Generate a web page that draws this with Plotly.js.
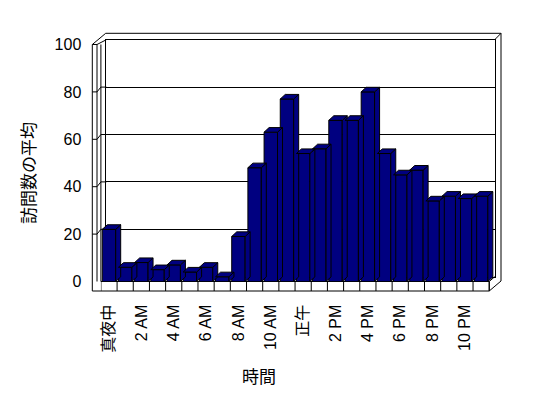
<!DOCTYPE html>
<html>
<head>
<meta charset="utf-8">
<script src="https://cdn.plot.ly/plotly-3.0.1.min.js"></script>
<style>html,body{margin:0;padding:0;background:#fff;}#chart{width:548px;height:398px;}</style>
</head>
<body>
<div id="chart"></div>
<script>
// ---- data ----
const hourLabels = ['真夜中','1 AM','2 AM','3 AM','4 AM','5 AM','6 AM','7 AM','8 AM','9 AM','10 AM','11 AM',
                    '正午','1 PM','2 PM','3 PM','4 PM','5 PM','6 PM','7 PM','8 PM','9 PM','10 PM','11 PM'];
const avgVisits = [22, 6, 8, 5, 7, 4, 6, 2, 19, 48, 63, 77, 54, 56, 68, 68, 80, 54, 45, 47, 34, 36, 35, 36];
const yTickVals = [0, 20, 40, 60, 80, 100];
const xTitle = '時間';
const yTitle = '訪問数の平均';

// ---- geometry (pixels) ----
const W = 548, H = 398;
const px = x => x / W, py = y => 1 - y / H;
const FX0 = 100.9, UX = 16.18;          // front plane left, px per category
const FY0 = 281.5, FY100 = 44.5;        // front plane y for 0 and 100
const BDX = 5.5, BDY = -4.8;            // back wall offset
const BAR_W = 0.83, DEPTH_X = 5, DEPTH_Y = 4.6;
const XMAX = 24;                        // axis range end (room for depth)
const UY = (FY0 - FY100) / 100;
const ddx = DEPTH_X / UX, ddy = DEPTH_Y / UY;
const idx = avgVisits.map((_, i) => i);
const FX1 = FX0 + 24 * UX;

const fyPix = v => FY0 - v * UY;
const byPix = v => fyPix(v) + BDY;

// side & top faces
const sx = [], sy = [], tx = [], ty = [];
idx.forEach(i => {
  const v = avgVisits[i], l = i - BAR_W / 2, r = i + BAR_W / 2;
  sx.push(r, r, r + ddx, r + ddx, r, null);
  sy.push(0, v, v + ddy, ddy, 0, null);
  tx.push(l, r, r + ddx, l + ddx, l, null);
  ty.push(v, v, v + ddy, v + ddy, v, null);
});

const navy = '#000080';
const traces = [
  {type: 'scatter', x: [0], y: [0], xaxis: 'x', yaxis: 'y', mode: 'markers', marker: {opacity: 0},
   hoverinfo: 'skip', showlegend: false},
  {type: 'scatter', x: sx, y: sy, xaxis: 'x2', yaxis: 'y2', mode: 'lines', fill: 'toself',
   fillcolor: navy, line: {color: '#000', width: 1}, hoverinfo: 'skip', showlegend: false},
  {type: 'scatter', x: tx, y: ty, xaxis: 'x2', yaxis: 'y2', mode: 'lines', fill: 'toself',
   fillcolor: navy, line: {color: '#000', width: 1}, hoverinfo: 'skip', showlegend: false},
  {type: 'bar', x: idx, y: avgVisits, xaxis: 'x2', yaxis: 'y2', width: BAR_W,
   marker: {color: navy, line: {color: '#000', width: 1}}, showlegend: false}
];

// frame lines
const L = (x0, y0, x1, y1) => ({type: 'line', xref: 'paper', yref: 'paper', layer: 'below',
  x0: px(x0), y0: py(y0), x1: px(x1), y1: py(y1), line: {color: '#000', width: 1}});
const shapes = [
  L(92.3, 44.5, 92.3, 291),
  L(97, 44.5, 97, 281.5),
  L(FX0, 44.5, FX0, 281.5),
  L(92.3, 44.5, 97, 44.5),
  L(97, 44.5, FX0 + BDX, 44.5 + BDY),
  L(92.3, 44.5, 105.7, 33.3),
  L(105.7, 33.3, 501, 33.3),
  L(501, 33.3, FX1 + BDX, FY100 + BDY),
  L(501, 33.3, 501, 281),
  L(92.3, 291, FX1, 291),
  L(FX0, FY0, FX1, FY0),
  L(FX1, FY0, FX1, 291),
  L(FX1, 291, 501, 281),
  L(FX1, FY0, FX1 + BDX, FY0 + BDY)
];
yTickVals.slice(1, -1).forEach(v => {
  shapes.push({type: 'path', xref: 'paper', yref: 'paper', layer: 'below', line: {color: '#000', width: 1},
    path: `M${px(92.3)},${py(fyPix(v))} L${px(97)},${py(fyPix(v))} L${px(FX0)},${py(byPix(v))} L${px(FX0 + BDX)},${py(byPix(v))}`});
});
for (let k = 0; k <= 24; k++) {
  shapes.push({type: 'line', xref: 'x2', yref: 'paper', layer: 'below', x0: k - 0.5, x1: k - 0.5,
    y0: py(FY0), y1: py(291), line: {color: '#000', width: 1}});
}

const font = "'Liberation Sans', 'Noto Sans CJK JP', sans-serif";
const evenIdx = idx.filter(i => i % 2 === 0);
const layout = {
  width: W, height: H, margin: {l: 0, r: 0, t: 0, b: 0},
  paper_bgcolor: '#fff', plot_bgcolor: 'rgba(0,0,0,0)',
  font: {family: font, size: 16, color: '#000'},
  showlegend: false,
  xaxis: {domain: [px(FX0 + BDX), px(FX1 + BDX)], range: [-0.5, 23.5], showgrid: false, zeroline: false,
          showticklabels: false, ticks: '', showline: true, mirror: true, linecolor: '#000', linewidth: 1,
          fixedrange: true},
  yaxis: {domain: [py(byPix(0)), py(byPix(100))], range: [0, 100], tickvals: yTickVals, showgrid: true,
          gridcolor: '#000', gridwidth: 1, zeroline: false, showticklabels: false, ticks: '',
          showline: true, mirror: true, linecolor: '#000', linewidth: 1, fixedrange: true},
  xaxis2: {domain: [px(FX0), px(FX0 + (XMAX + 0.5) * UX)], range: [-0.5, XMAX], anchor: 'y2',
           showgrid: false, zeroline: false, showline: false, ticks: '',
           tickvals: evenIdx, ticktext: evenIdx.map(i => hourLabels[i]), tickangle: -90,
           ticklabelstandoff: 19, tickfont: {size: 16}, fixedrange: true},
  yaxis2: {domain: [py(FY0), py(FY100)], range: [0, 100], anchor: 'free', position: px(92.3),
           tickvals: yTickVals, showgrid: false, zeroline: false, showline: false, ticks: '',
           ticklabelstandoff: 11, tickfont: {size: 16}, fixedrange: true},
  shapes: shapes,
  annotations: [
    {text: yTitle, xref: 'paper', yref: 'paper', x: px(29), y: py(173), textangle: -90, showarrow: false,
     font: {size: 17}, xanchor: 'center', yanchor: 'middle'},
    {text: xTitle, xref: 'paper', yref: 'paper', x: px(259), y: py(377), showarrow: false,
     font: {size: 17}, xanchor: 'center', yanchor: 'middle'}
  ]
};
Plotly.newPlot('chart', traces, layout, {displayModeBar: false, staticPlot: true});
</script>
</body>
</html>
